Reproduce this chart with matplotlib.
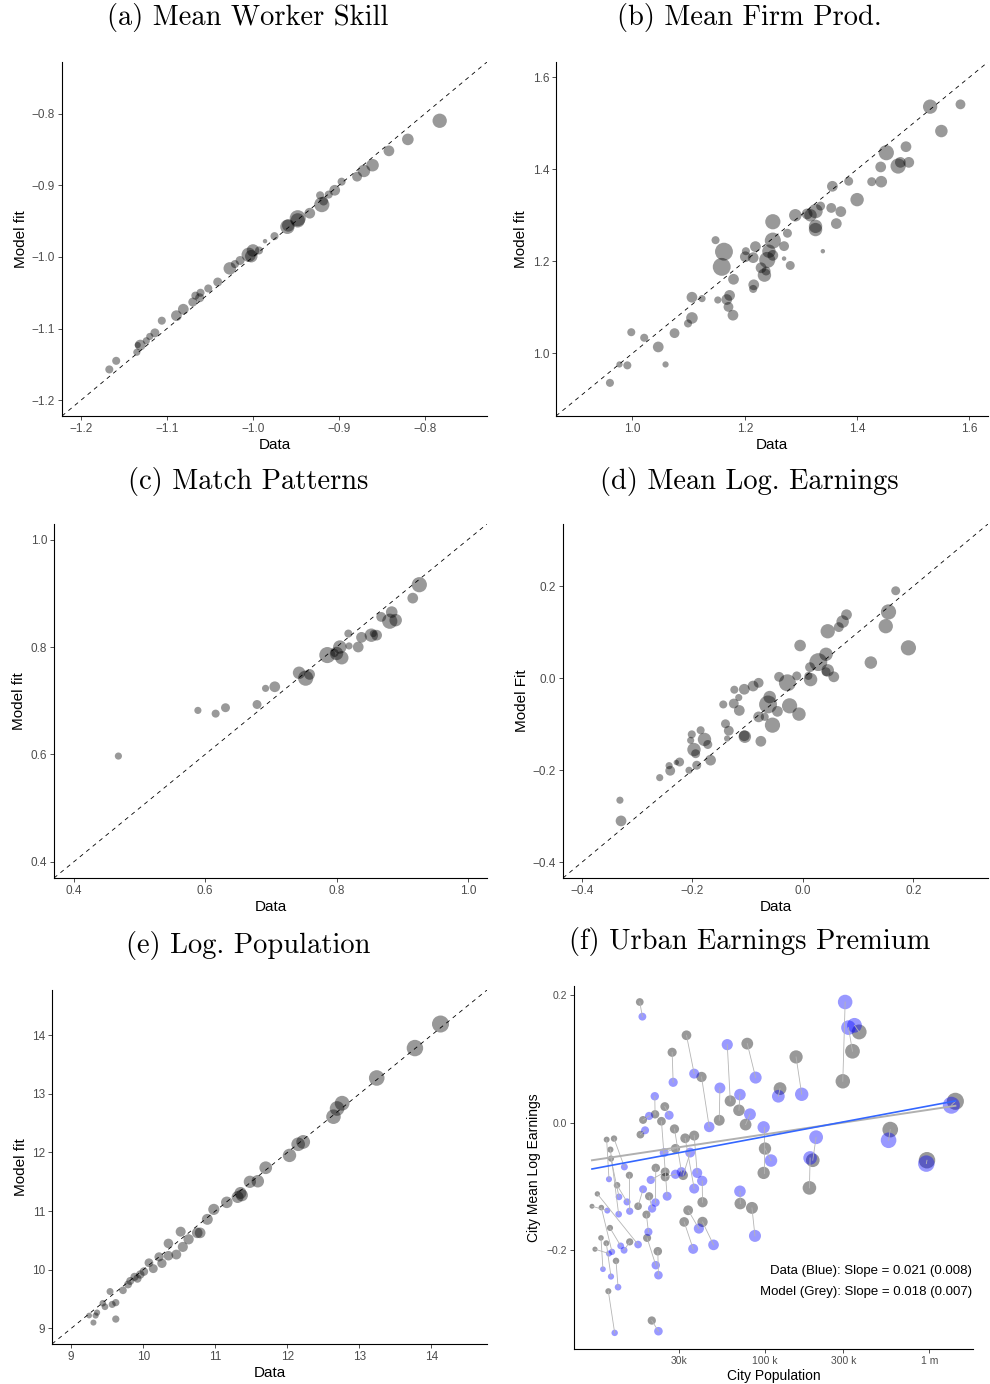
import numpy as np
import matplotlib
matplotlib.use("Agg")
import matplotlib.pyplot as plt

plt.rcParams['font.family'] = ['Liberation Sans', 'DejaVu Sans']
plt.rcParams['axes.unicode_minus'] = True

# ---------------- data ----------------
# (a) Mean worker skill: data, model fit, log population (size)
a_data = [-0.783, -0.820, -0.842, -0.861, -0.871, -0.879, -0.897, -0.905, -0.912, -0.922,
          -0.920, -0.918, -0.934, -0.948, -0.948, -0.960, -0.959, -0.975, -0.986, -0.993,
          -1.000, -1.005, -1.002, -1.015, -1.021, -1.027, -1.041, -1.052, -1.061, -1.062,
          -1.067, -1.070, -1.081, -1.089, -1.106, -1.114, -1.120, -1.124, -1.131, -1.134,
          -1.135, -1.159, -1.167]
a_model = [-0.810, -0.836, -0.852, -0.872, -0.880, -0.888, -0.895, -0.907, -0.913, -0.914,
           -0.927, -0.922, -0.939, -0.946, -0.949, -0.958, -0.956, -0.971, -0.978, -0.991,
           -0.991, -0.997, -0.999, -1.005, -1.010, -1.016, -1.035, -1.044, -1.050, -1.057,
           -1.054, -1.063, -1.073, -1.082, -1.089, -1.106, -1.111, -1.117, -1.123, -1.123,
           -1.133, -1.145, -1.157]
a_lpop = [12.51, 11.18, 10.81, 11.59, 11.59, 10.46, 9.85, 10.81, 9.85, 9.85,
          13.01, 10.14, 10.81, 13.54, 12.51, 12.51, 11.59, 9.85, 9.00, 9.85,
          11.59, 12.51, 11.59, 10.14, 9.85, 11.59, 10.14, 9.85, 9.85, 10.14,
          9.85, 10.14, 10.81, 10.81, 9.85, 10.14, 9.59, 9.59, 10.81, 9.36,
          9.59, 9.85, 9.85]

# (b) Mean firm productivity
b_data = [1.530, 1.584, 1.550, 1.487, 1.452, 1.492, 1.473, 1.477, 1.442, 1.443,
          1.426, 1.385, 1.356, 1.400, 1.354, 1.371, 1.335, 1.326, 1.317, 1.311,
          1.290, 1.363, 1.326, 1.326, 1.250, 1.276, 1.250, 1.270, 1.281, 1.339,
          1.270, 1.219, 1.202, 1.201, 1.215, 1.243, 1.240, 1.250, 1.229, 1.235,
          1.238, 1.163, 1.159, 1.148, 1.180, 1.216, 1.215, 1.173, 1.168, 1.152,
          1.171, 1.179, 1.106, 1.124, 1.106, 1.099, 1.075, 1.021, 0.998, 1.046,
          0.977, 0.991, 1.059, 0.960]
b_model = [1.536, 1.541, 1.483, 1.449, 1.436, 1.415, 1.407, 1.415, 1.405, 1.373,
           1.373, 1.374, 1.363, 1.334, 1.316, 1.308, 1.320, 1.309, 1.300, 1.303,
           1.300, 1.282, 1.276, 1.269, 1.286, 1.261, 1.245, 1.233, 1.191, 1.222,
           1.206, 1.232, 1.222, 1.210, 1.208, 1.222, 1.203, 1.213, 1.186, 1.170,
           1.179, 1.221, 1.188, 1.246, 1.161, 1.149, 1.140, 1.126, 1.117, 1.116,
           1.101, 1.083, 1.122, 1.119, 1.077, 1.065, 1.044, 1.034, 1.046, 1.014,
           0.976, 0.974, 0.976, 0.936]
b_lpop = [12.51, 10.46, 11.59, 10.81, 13.01, 10.81, 13.01, 10.81, 10.81, 11.18,
          10.14, 10.14, 10.81, 12.03, 10.46, 10.81, 10.14, 12.51, 11.59, 10.81,
          11.59, 10.81, 12.03, 12.03, 13.01, 10.14, 13.54, 10.46, 10.14, 9.00,
          9.00, 10.81, 9.85, 10.81, 10.81, 12.03, 13.54, 10.81, 10.81, 12.03,
          10.14, 14.69, 14.69, 9.85, 10.81, 10.81, 9.85, 10.81, 10.81, 9.59,
          10.46, 10.81, 10.81, 9.59, 11.18, 9.85, 10.46, 9.85, 9.85, 10.81,
          9.36, 9.85, 9.36, 9.85]

# (c) Match patterns
c_data = [0.926, 0.916, 0.884, 0.868, 0.881, 0.890, 0.853, 0.861, 0.856, 0.838,
          0.818, 0.819, 0.833, 0.805, 0.800, 0.808, 0.786, 0.797, 0.759, 0.743,
          0.753, 0.706, 0.692, 0.679, 0.631, 0.616, 0.589, 0.468]
c_model = [0.916, 0.891, 0.865, 0.856, 0.848, 0.850, 0.822, 0.822, 0.825, 0.818,
           0.825, 0.802, 0.800, 0.800, 0.788, 0.780, 0.785, 0.789, 0.749, 0.752,
           0.742, 0.726, 0.723, 0.693, 0.687, 0.676, 0.682, 0.597]
c_lpop = [13.01, 10.81, 11.18, 10.46, 13.01, 11.59, 12.03, 10.81, 9.59, 10.81,
          9.85, 9.59, 10.81, 12.03, 12.03, 12.03, 13.54, 9.85, 10.81, 11.59,
          13.01, 10.81, 9.59, 10.14, 10.14, 9.85, 9.59, 9.59]

# (d) Mean log earnings
d_data = [0.168, 0.155, 0.150, 0.191, 0.123, 0.079, 0.072, 0.065, 0.045, -0.005,
          0.042, 0.028, 0.013, 0.045, 0.042, 0.056, 0.014, 0.010, -0.011, -0.028,
          -0.043, -0.024, -0.007, -0.046, -0.060, -0.063, -0.055, -0.069, -0.080, -0.080,
          -0.090, -0.106, -0.124, -0.116, -0.125, -0.144, -0.115, -0.140, -0.134, -0.137,
          -0.105, -0.106, -0.076, -0.185, -0.201, -0.178, -0.203, -0.172, -0.197, -0.194,
          -0.167, -0.192, -0.206, -0.223, -0.229, -0.240, -0.242, -0.259, -0.331, -0.329]
d_model = [0.190, 0.144, 0.113, 0.066, 0.034, 0.138, 0.123, 0.111, 0.102, 0.071,
           0.052, 0.035, 0.024, 0.017, 0.014, 0.003, -0.003, 0.005, 0.005, -0.010,
           0.003, -0.060, -0.078, -0.072, -0.041, -0.057, -0.102, -0.084, -0.084, -0.010,
           -0.017, -0.024, -0.025, -0.042, -0.055, -0.057, -0.070, -0.099, -0.114, -0.131,
           -0.127, -0.125, -0.137, -0.113, -0.122, -0.133, -0.135, -0.144, -0.155, -0.164,
           -0.178, -0.189, -0.200, -0.182, -0.183, -0.201, -0.190, -0.216, -0.265, -0.310]
d_lpop = [10.14, 13.01, 12.51, 13.01, 11.59, 10.81, 11.59, 10.46, 12.51, 11.18,
          12.03, 14.69, 10.46, 11.59, 10.14, 10.81, 12.03, 9.85, 10.14, 14.10,
          10.46, 13.01, 12.03, 10.81, 11.59, 14.69, 13.01, 9.85, 10.81, 10.46,
          10.81, 10.81, 9.85, 9.59, 10.46, 9.85, 10.81, 10.14, 10.46, 9.36,
          11.59, 10.81, 10.81, 9.85, 9.85, 12.03, 9.59, 10.14, 12.03, 10.14,
          10.81, 10.14, 9.59, 10.14, 9.17, 10.46, 9.59, 9.59, 9.59, 10.81]

# (e) Log population
e_data = [14.125, 13.77, 13.24, 12.76, 12.69, 12.64, 12.22, 12.15, 12.03, 11.70,
          11.59, 11.48, 11.37, 11.31, 11.35, 11.16, 10.98, 10.89, 10.79, 10.75,
          10.63, 10.52, 10.55, 10.46, 10.35, 10.35, 10.26, 10.22, 10.14, 10.08,
          10.01, 9.96, 9.92, 9.88, 9.82, 9.79, 9.72, 9.54, 9.62, 9.57,
          9.47, 9.44, 9.36, 9.34, 9.62, 9.31, 9.25]
e_model = [14.19, 13.78, 13.27, 12.84, 12.75, 12.61, 12.18, 12.14, 11.95, 11.74,
           11.51, 11.50, 11.27, 11.24, 11.31, 11.15, 11.03, 10.86, 10.63, 10.63,
           10.52, 10.65, 10.39, 10.26, 10.45, 10.24, 10.11, 10.22, 10.02, 10.12,
           9.97, 9.92, 9.85, 9.88, 9.81, 9.75, 9.65, 9.63, 9.44, 9.41,
           9.37, 9.43, 9.27, 9.22, 9.16, 9.10, 9.22]

# (f) Urban earnings premium: city population (thousands) and mean log earnings
f_pop_model = [10.86, 12.04, 11.44, 11.54, 8.84, 9.53, 10.08, 11.38, 10.03, 10.81,
               9.22, 12.38, 11.12, 12.56, 14.93, 15.00, 16.87, 19.69, 18.96, 19.14,
               22.24, 20.44, 21.41, 24.53, 18.09, 17.43, 23.41, 21.62, 24.65, 24.65,
               28.10, 28.49, 31.73, 32.63, 37.04, 41.64, 34.04, 32.18, 41.64, 41.05,
               33.25, 27.19, 17.27, 61.43, 77.96, 52.62, 69.37, 76.15, 154.5, 123.4,
               297.4, 340.7, 374.1, 1441.0, 578.4, 967.9, 195.2, 186.3, 98.06, 99.93,
               70.68, 83.25]
f_earn_model = [-0.0264, -0.0248, -0.0421, -0.0562, -0.1310, -0.1116, -0.1331, -0.1650, -0.1807, -0.1890,
                -0.1984, -0.2167, -0.2643, -0.0980, -0.0824, -0.1869, -0.1310, -0.1153, -0.1441, -0.1807,
                -0.2016, -0.3103, 0.0133, 0.0254, 0.0044, -0.0186, 0.0024, -0.0708, -0.0771, -0.0850,
                -0.0097, -0.0405, -0.0824, -0.0243, -0.0201, -0.1247, -0.1373, -0.1556, -0.1556, 0.0719,
                0.1373, 0.1106, 0.1895, 0.0342, 0.1242, 0.0039, 0.0196, -0.0029, 0.1033, 0.0536,
                0.0651, 0.1122, 0.1425, 0.0337, -0.0107, -0.0588, -0.0588, -0.1022, -0.0787, -0.0405,
                -0.1268, -0.1336]
f_pop_data = [11.22, 13.92, 12.85, 12.91, 10.96, 16.87, 11.71, 13.22, 10.31, 11.54,
              11.22, 12.74, 12.15, 14.45, 15.00, 13.86, 18.09, 20.53, 19.50, 21.62,
              22.44, 22.44, 21.32, 26.07, 19.69, 18.61, 25.35, 21.52, 20.15, 28.49,
              30.99, 24.30, 35.01, 37.04, 38.63, 41.44, 39.55, 36.51, 48.58, 45.72,
              37.04, 27.58, 17.92, 58.89, 87.63, 53.12, 70.35, 80.95, 167.2, 120.5,
              307.4, 322.1, 350.4, 1362.0, 565.0, 959.0, 204.6, 188.1, 98.06, 108.7,
              70.35, 86.83]
f_earn_data = [-0.0886, -0.0693, -0.1435, -0.1163, -0.1378, -0.1911, -0.2026, -0.1932, -0.2298, -0.2413,
               -0.2052, -0.2580, -0.3297, -0.1242, -0.1388, -0.2000, -0.1043, -0.1346, -0.1712, -0.2235,
               -0.2392, -0.3271, 0.0416, 0.0118, 0.0107, -0.0118, -0.1153, -0.1252, -0.0897, -0.0808,
               -0.0771, -0.0468, -0.0468, -0.1033, -0.0787, -0.0912, -0.1660, -0.1979, -0.1916, -0.0065,
               0.0771, 0.0635, 0.1665, 0.1226, 0.0709, 0.0546, 0.0442, 0.0133, 0.0447, 0.0416,
               0.1895, 0.1493, 0.1529, 0.0275, -0.0275, -0.0641, -0.0227, -0.0552, -0.0071, -0.0593,
               -0.1075, -0.1775]

titles = ["(a) Mean Worker Skill", "(b) Mean Firm Prod.", "(c) Match Patterns",
          "(d) Mean Log. Earnings", "(e) Log. Population", "(f) Urban Earnings Premium"]
f_xticks = [30000, 100000, 300000, 1000000]
f_xticklabels = ["30k", "100 k", "300 k", "1 m"]
f_yticks = [-0.2, 0.0, 0.2]
slope_text = ["Data (Blue): Slope = 0.021 (0.008)", "Model (Grey): Slope = 0.018 (0.007)"]

# ---------------- style helpers ----------------
W, H = 990, 1384
fig = plt.figure(figsize=(W / 100, H / 100), dpi=100)


def ax_at(x0, y0, x1, y1):
    return fig.add_axes([x0 / W, 1 - y1 / H, (x1 - x0) / W, (y1 - y0) / H])


def marker_size(lp):
    area = 25 + (np.asarray(lp, dtype=float) - 9.0) * 65.9
    return 0.2304 * area * 1.8


def minus_fmt(v, dec):
    s = f"{v:.{dec}f}"
    return s.replace("-", "\u2212")


def style(ax, tick_fs=8.5):
    for sp in ("top", "right"):
        ax.spines[sp].set_visible(False)
    for sp in ("left", "bottom"):
        ax.spines[sp].set_linewidth(0.8)
        ax.spines[sp].set_color("black")
    ax.tick_params(axis="both", length=3, width=0.6, color="#333333",
                   labelcolor="#4d4d4d", labelsize=tick_fs, pad=2)
    ax.minorticks_off()


def fit_panel(ax, x, y, lp, lim, ticks, dec, ylabel):
    ax.plot(lim, lim, color="black", lw=0.6, ls=(0, (5, 5)), zorder=1)
    ax.scatter(x, y, s=marker_size(lp), c="black", alpha=0.4,
               edgecolors="none", zorder=2)
    ax.set_xlim(lim)
    ax.set_ylim(lim)
    ax.set_xticks(ticks)
    ax.set_yticks(ticks)
    ax.set_xticklabels([minus_fmt(t, dec) for t in ticks])
    ax.set_yticklabels([minus_fmt(t, dec) for t in ticks])
    style(ax)
    ax.set_xlabel("Data", fontsize=11, labelpad=2)
    ax.set_ylabel(ylabel, fontsize=11, labelpad=3)


axa = ax_at(62, 62, 487, 416)
fit_panel(axa, a_data, a_model, a_lpop, (-1.222, -0.728),
          [-1.2, -1.1, -1.0, -0.9, -0.8], 1, "Model fit")
axb = ax_at(556, 62, 988, 416)
fit_panel(axb, b_data, b_model, b_lpop, (0.864, 1.633),
          [1.0, 1.2, 1.4, 1.6], 1, "Model fit")
axc = ax_at(54, 524, 487, 878)
fit_panel(axc, c_data, c_model, c_lpop, (0.370, 1.029),
          [0.4, 0.6, 0.8, 1.0], 1, "Model fit")
axd = ax_at(563, 524, 988, 878)
fit_panel(axd, d_data, d_model, d_lpop, (-0.434, 0.335),
          [-0.4, -0.2, 0.0, 0.2], 1, "Model Fit")
axe = ax_at(52, 990, 487, 1344)
fit_panel(axe, e_data, e_model, e_data, (8.735, 14.77),
          [9, 10, 11, 12, 13, 14], 0, "Model fit")

# ---------------- panel (f) ----------------
axf = ax_at(574, 986, 973, 1349)
pm = np.asarray(f_pop_model) * 1000
pdat = np.asarray(f_pop_data) * 1000
em = np.asarray(f_earn_model)
ed = np.asarray(f_earn_data)

axf.scatter(pm, em, s=marker_size(np.log(pm)), c="black", alpha=0.4,
            edgecolors="none", zorder=2)
axf.scatter(pdat, ed, s=marker_size(np.log(pdat)), c="blue", alpha=0.4,
            edgecolors="none", zorder=3)
axf.plot(np.vstack([pm, pdat]), np.vstack([em, ed]), color="#b5b5b5",
         lw=0.6, zorder=4)

# population-weighted linear fits on log population
xmin = min(pm.min(), pdat.min())
xmax = max(pm.max(), pdat.max())
xs = np.geomspace(xmin, xmax, 100)
km = np.polyfit(np.log(pm), em, 1, w=np.sqrt(pm))
kd = np.polyfit(np.log(pdat), ed, 1, w=np.sqrt(pdat))
axf.plot(xs, np.polyval(km, np.log(xs)), color="#b0b0b0", lw=1.4, zorder=5)
axf.plot(xs, np.polyval(kd, np.log(xs)), color="#3366FF", lw=1.2, zorder=6)

axf.set_xscale("log")
axf.set_xlim(6871, 1.845e6)
axf.set_ylim(-0.355, 0.2146)
axf.set_xticks(f_xticks)
axf.set_xticklabels(f_xticklabels)
axf.set_yticks(f_yticks)
axf.set_yticklabels([minus_fmt(t, 1) for t in f_yticks])
style(axf, tick_fs=7.5)
axf.set_xlabel("City Population", fontsize=10, labelpad=2)
axf.set_ylabel("City Mean Log Earnings", fontsize=10, labelpad=4)
axf.text(0.998, 0.215, slope_text[0], transform=axf.transAxes, ha="right",
         va="center", fontsize=9.5)
axf.text(0.998, 0.157, slope_text[1], transform=axf.transAxes, ha="right",
         va="center", fontsize=9.5)

# ---------------- titles ----------------
title_pos = [(248, 18), (749, 18), (248, 481), (749, 481), (248, 946), (750, 942)]
for t, (tx, ty) in zip(titles, title_pos):
    fig.text(tx / W, 1 - ty / H, t, family="cmr10", fontsize=20.5,
             ha="center", va="center")

fig.savefig("out.png", dpi=100)
